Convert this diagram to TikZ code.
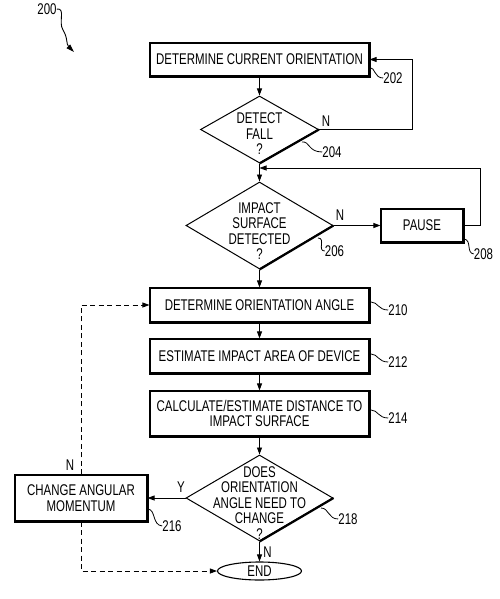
\documentclass[tikz,border=0pt]{standalone}
\usepackage{fontspec}
\setmainfont{Liberation Sans}[FakeStretch=0.74]
\usetikzlibrary{arrows.meta,shapes.geometric}
\tikzset{
  box/.style={draw, line width=1.1pt, align=center, inner sep=0pt},
  dia/.style={draw, diamond, line width=1pt, inner sep=0pt},
  txt/.style={align=center, inner sep=0pt},
  lbl/.style={inner sep=0pt},
  conn/.style={line width=0.8pt, -{Triangle[length=7pt,width=5pt]}},
  plain/.style={line width=0.8pt},
  dconn/.style={line width=0.8pt, dash pattern=on 5pt off 3.5pt, -{Triangle[length=7pt,width=5pt]}},
  dplain/.style={line width=0.8pt, dash pattern=on 5pt off 3.5pt},
  lead/.style={line width=0.8pt},
  shade/.style={line width=2.2pt},
}
\begin{document}
\begin{tikzpicture}[x=1pt,y=-1pt, font=\fontsize{15.5}{15.5}\selectfont]
\useasboundingbox (0,0) rectangle (500,599);

% boxes
\node[box, minimum width=219pt, minimum height=33pt] (b202) at (259.5,59.5) {DETERMINE CURRENT ORIENTATION};
\node[dia, minimum width=118pt, minimum height=67pt] (d204) at (259.5,129.5) {};
\node[txt] (t204) at (259.5,134) {DETECT\\FALL\\?};
\node[dia, minimum width=147pt, minimum height=87pt] (d206) at (259.5,225.5) {};
\node[txt] (t206) at (259.5,231) {IMPACT\\SURFACE\\DETECTED\\?};
\node[box, minimum width=82pt, minimum height=33pt] (p208) at (422,225.5) {PAUSE};
\node[box, minimum width=219pt, minimum height=34pt] (b210) at (259.5,305) {DETERMINE ORIENTATION ANGLE};
\node[box, minimum width=219pt, minimum height=34pt] (b212) at (259.5,356) {ESTIMATE IMPACT AREA OF DEVICE};
\node[box, minimum width=219pt, minimum height=45pt] (b214) at (259.5,413.5) {CALCULATE/ESTIMATE DISTANCE TO\\IMPACT SURFACE};
\node[dia, minimum width=147pt, minimum height=86pt] (d218) at (259.5,498) {};
\node[txt] (t218) at (259.5,503) {DOES\\ORIENTATION\\ANGLE NEED TO\\CHANGE\\?};
\node[box, minimum width=132pt, minimum height=46pt] (b216) at (81,498) {CHANGE ANGULAR\\MOMENTUM};
\node[draw, ellipse, line width=1.1pt, inner sep=0pt, minimum width=84pt, minimum height=18pt] (end) at (259.5,571) {END};

% shading (thick lower/right edges)
\foreach \b in {b202,p208,b210,b212,b214,b216}{
  \draw[shade] (\b.north east) -- (\b.south east) -- (\b.south west);
}
\foreach \d in {d204,d206,d218}{
  \draw[shade] (\d.east) -- (\d.south);
}

% connectors
\draw[conn] (b202.south) -- (d204.north);
\draw[conn] (d204.east) -- ++(93,0) |- (b202.east);
\node[lbl] (n204) at (326,121) {N};
\coordinate (j1) at (259.5,168);
\draw[conn] (d204.south) -- (d206.north);
\draw[conn] (d206.east) -- (p208.west);
\node[lbl] (n206) at (340,215) {N};
\draw[conn] (p208.east) -- ++(17,0) |- (j1);
\draw[conn] (d206.south) -- (b210.north);
\draw[conn] (b210.south) -- (b212.north);
\draw[conn] (b212.south) -- (b214.north);
\draw[conn] (b214.south) -- (d218.north);
\draw[conn] (d218.west) -- (b216.east);
\node[lbl] (y218) at (181,487) {Y};
\draw[conn] (d218.south) -- (end.north);
\node[lbl] (n218) at (267.5,552) {N};
\draw[dconn] (b216.north) |- (b210.west);
\node[lbl] (n216) at (70,465) {N};
\draw[dconn] (b216.south) |- (end.west);

% reference labels with leaders
\node[lbl] (l202) at (393,78) {202};
\draw[lead] (369,67) .. controls (376,68) and (374,78) .. (l202.west);
\node[lbl] (l204) at (332,152) {204};
\draw[lead] (302,142) .. controls (310,141) and (308,152) .. (l204.west);
\node[lbl] (l206) at (334.5,251) {206};
\draw[lead] (318,238) .. controls (326,238) and (317,251) .. (l206.west);
\node[lbl] (l208) at (483.5,254) {208};
\draw[lead] (464,239) .. controls (472,240) and (466,253) .. (l208.west);
\node[lbl] (l210) at (398,310) {210};
\draw[lead] (371,302) .. controls (378,302) and (378,310) .. (l210.west);
\node[lbl] (l212) at (398,362) {212};
\draw[lead] (371,354) .. controls (378,354) and (378,362) .. (l212.west);
\node[lbl] (l214) at (398,418) {214};
\draw[lead] (371,410) .. controls (378,410) and (378,418) .. (l214.west);
\node[lbl] (l216) at (172,526) {216};
\draw[lead] (148,509) .. controls (156,510) and (152,525) .. (l216.west);
\node[lbl] (l218) at (348,519) {218};
\draw[lead] (321,508) .. controls (329,508) and (328,519) .. (l218.west);

% figure number
\node[lbl] (l200) at (47,9) {200};
\draw[line width=0.9pt, -{Triangle[length=8pt,width=5pt]}] (l200.east) .. controls (66,8) and (58,22) .. (63,30) .. controls (68,38) and (66,44) .. (74,52);
\end{tikzpicture}
\end{document}
